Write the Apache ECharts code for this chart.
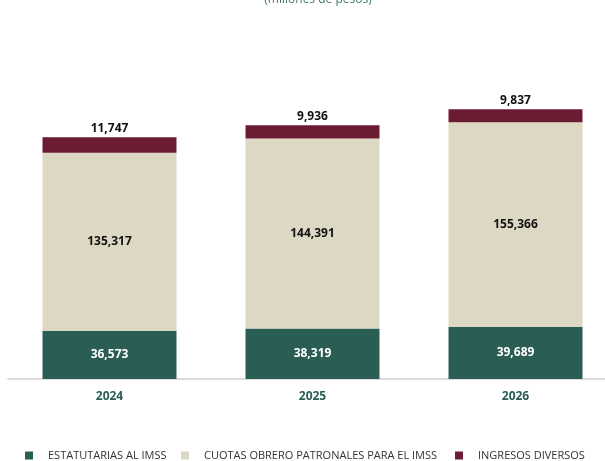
<!DOCTYPE html>
<html>
<head>
<meta charset="utf-8">
<script src="https://cdn.jsdelivr.net/npm/echarts@6/dist/echarts.min.js"></script>
<style>
  html, body { margin: 0; padding: 0; background: #fff; }
  #chart { width: 605px; height: 461px; }
</style>
</head>
<body>
<div id="chart"></div>
<script>
var years = ['2024', '2025', '2026'];
var estatutarias = [36573, 38319, 39689];
var cuotas = [135317, 144391, 155366];
var diversos = [11747, 9936, 9837];

var names = ['ESTATUTARIAS AL IMSS', 'CUOTAS OBRERO PATRONALES PARA EL IMSS', 'INGRESOS DIVERSOS'];
var colors = ['#2a5d53', '#ddd8c3', '#6b1c33'];

function fmt(p) {
    return p.value.toLocaleString('en-US');
}

var labelFont = 'Open Sans';

var option = {
    backgroundColor: '#fff',
    animation: false,
    title: {
        text: '(millones de pesos)',
        left: 313,
        textAlign: 'center',
        top: -11,
        textStyle: { color: '#3f7a6b', fontSize: 12, fontWeight: 'normal', fontFamily: labelFont }
    },
    legend: [0, 1, 2].map(function (i) {
        return {
            data: [names[i]],
            left: [20, 176, 450][i],
            top: 445,
            itemWidth: 8,
            itemHeight: 8,
            icon: 'rect',
            textStyle: { color: '#333', fontSize: 11, fontFamily: labelFont, padding: [0, 0, 0, 10] }
        };
    }),
    grid: { left: 8, right: -12, top: 63, bottom: 82, outerBoundsMode: 'none' },
    xAxis: {
        type: 'category',
        data: years,
        axisLine: { lineStyle: { color: '#dcdcdc', width: 2 } },
        axisTick: { show: false },
        axisLabel: { color: '#2a5d53', fontWeight: 'bold', fontSize: 12, margin: 12, fontFamily: labelFont }
    },
    yAxis: {
        type: 'value',
        min: 0,
        max: 240000,
        show: false,
        splitLine: { show: false }
    },
    series: [
        {
            name: names[0], type: 'bar', stack: 't', data: estatutarias, barWidth: '66%',
            itemStyle: { color: colors[0] },
            label: { show: true, position: 'inside', color: '#fff', fontWeight: 'bold', fontSize: 12, fontFamily: labelFont, formatter: fmt }
        },
        {
            name: names[1], type: 'bar', stack: 't', data: cuotas, barWidth: '66%',
            itemStyle: { color: colors[1] },
            label: { show: true, position: 'inside', color: '#111', fontWeight: 'bold', fontSize: 12, fontFamily: labelFont, formatter: fmt }
        },
        {
            name: names[2], type: 'bar', stack: 't', data: diversos, barWidth: '66%',
            itemStyle: { color: colors[2] },
            label: { show: true, position: 'top', distance: 3, color: '#111', fontWeight: 'bold', fontSize: 12, fontFamily: labelFont, formatter: fmt }
        }
    ]
};

var chart = echarts.init(document.getElementById('chart'));
chart.setOption(option);
</script>
</body>
</html>
